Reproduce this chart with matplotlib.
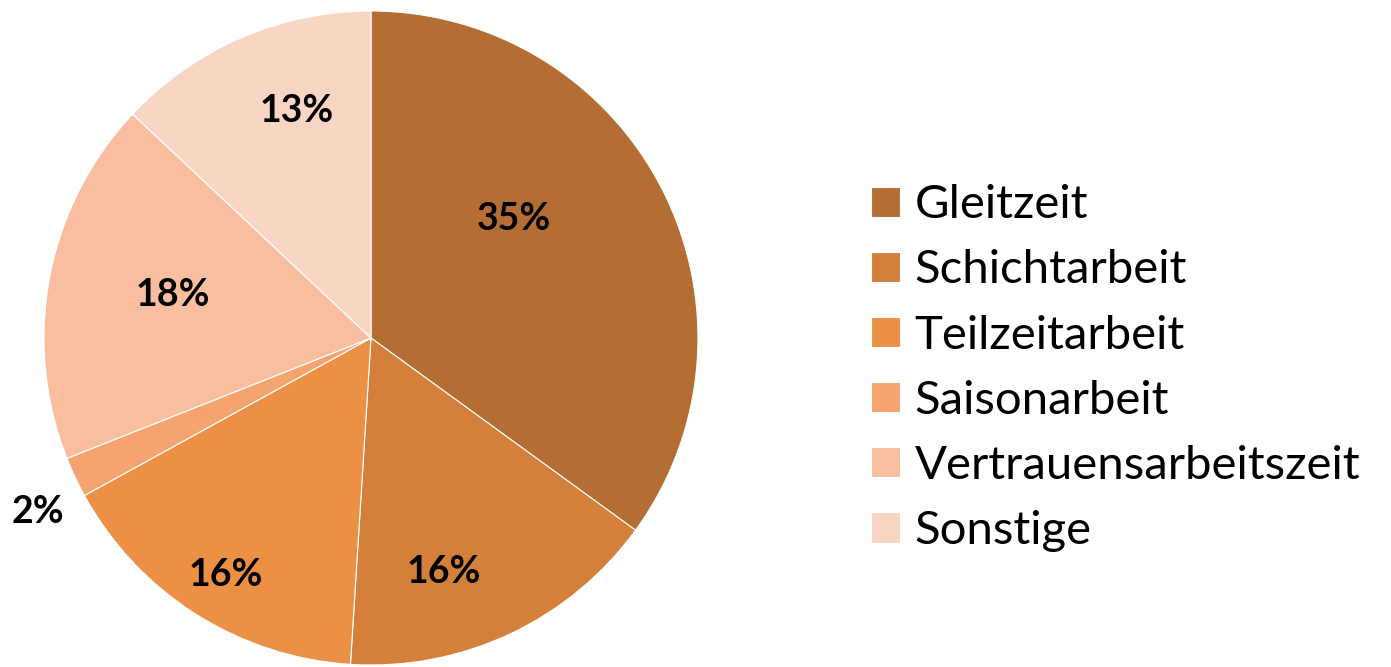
import matplotlib
matplotlib.use("Agg")
import matplotlib.pyplot as plt
import numpy as np

categories = ["Gleitzeit", "Schichtarbeit", "Teilzeitarbeit", "Saisonarbeit",
              "Vertrauensarbeitszeit", "Sonstige"]
values = [35, 16, 16, 2, 18, 13]
pct_labels = ["35%", "16%", "16%", "2%", "18%", "13%"]
colors = ["#B46E33", "#D47F3A", "#EB9045", "#F5A46F", "#F8BE9F", "#F9D5C3"]

# label placement (style): radial distance and angular nudge in degrees
label_r = [0.57, 0.75, 0.85, 1.15, 0.62, 0.73]
label_dang = [12.8, -8.0, 0.8, 2.4, -1.4, -5.2]

plt.rcParams['font.family'] = ['Lato', 'DejaVu Sans']

fig = plt.figure(figsize=(13.91, 6.67), dpi=100)
ax = fig.add_axes([0.0316, 0.003, 0.4702, 0.9805])
wedges, _ = ax.pie(values, colors=colors, startangle=90, counterclock=False,
                   radius=1.0, wedgeprops=dict(edgecolor="white", linewidth=0.8))
ax.set_xlim(-1, 1)
ax.set_ylim(-1, 1)
ax.set_aspect("equal")
ax.axis("off")

total = sum(values)
cum = 0
for v, lab, r, d in zip(values, pct_labels, label_r, label_dang):
    mid = 90 - 360 * (cum + v / 2) / total + d
    cum += v
    ax.text(r * np.cos(np.radians(mid)), r * np.sin(np.radians(mid)), lab,
            ha="center", va="center", fontsize=27, fontweight="bold", color="black")

leg = fig.legend(wedges, categories, loc="center left", bbox_to_anchor=(0.626, 0.448),
                 frameon=False, fontsize=34, handlelength=0.61, handleheight=0.61,
                 handletextpad=0.32, labelspacing=0.49, borderpad=0, borderaxespad=0)

fig.savefig("out.png", dpi=100)
